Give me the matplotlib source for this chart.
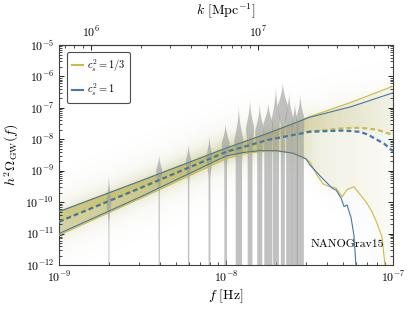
import numpy as np
import matplotlib
matplotlib.use('Agg')
import matplotlib.pyplot as plt
from matplotlib.lines import Line2D
from matplotlib.colors import to_rgb
from matplotlib.ticker import LogLocator, NullFormatter

plt.rcParams['font.family'] = 'serif'
plt.rcParams['font.serif'] = ['cmr10', 'DejaVu Serif']
plt.rcParams['mathtext.fontset'] = 'cm'
plt.rcParams['axes.formatter.use_mathtext'] = True
plt.rcParams['axes.unicode_minus'] = False

# ---------------- data (log10 values) ----------------
# c_s^2 = 1/3 (yellow)
yu_lf = np.array([-9.0, -8.5, -8.0, -7.75, -7.5, -7.25, -7.0])
yu_lo = np.array([-10.30, -9.30, -8.28, -7.80, -7.28, -6.82, -6.31])
ym_lf = np.array([-9.0, -8.5, -8.0, -7.75, -7.5, -7.3, -7.2, -7.1, -7.0])
ym_lo = np.array([-10.62, -9.52, -8.40, -8.02, -7.75, -7.65, -7.63, -7.69, -7.86])
yl_lf = np.array([-9.0, -8.5, -8.0, -7.9, -7.8, -7.7, -7.6, -7.557, -7.497, -7.455,
                  -7.419, -7.383, -7.341, -7.305, -7.275, -7.234, -7.204, -7.162,
                  -7.126, -7.096, -7.066, -7.048, -7.03, -7.0])
yl_lo = np.array([-11.05, -9.85, -8.62, -8.47, -8.39, -8.38, -8.43, -8.50, -8.72, -9.14,
                  -9.42, -9.50, -9.55, -9.83, -9.60, -9.51, -9.71, -9.99,
                  -10.30, -10.67, -11.10, -12.0, -13.0, -13.0])
# c_s^2 = 1 (blue)
bu_lf = np.array([-9.0, -8.5, -8.0, -7.75, -7.5, -7.25, -7.0])
bu_lo = np.array([-10.30, -9.30, -8.28, -7.81, -7.30, -6.96, -6.52])
bm_lf = np.array([-9.0, -8.5, -8.0, -7.75, -7.5, -7.3, -7.2, -7.15, -7.1, -7.05, -7.0])
bm_lo = np.array([-10.62, -9.52, -8.40, -8.02, -7.76, -7.72, -7.76, -7.85, -8.0, -8.15, -8.38])
bl_lf = np.array([-9.0, -8.5, -8.0, -7.9, -7.8, -7.7, -7.6, -7.521, -7.497, -7.425,
                  -7.365, -7.34, -7.311, -7.293, -7.275, -7.251, -7.234, -7.222, -7.2, -7.0])
bl_lo = np.array([-11.0, -9.80, -8.53, -8.42, -8.36, -8.36, -8.44, -8.62, -8.82, -9.23,
                  -9.55, -9.62, -9.87, -10.14, -10.09, -10.5, -11.05, -12.0, -13.0, -13.0])

# NANOGrav 15-yr free-spectrum violins (log10 h^2 Omega)
T_obs = 16.03 * 365.25 * 86400.0
pta_n = np.arange(1, 15)
v_top = np.array([-9.03, -8.44, -8.08, -7.79, -7.41, -6.85, -6.64, -6.77, -6.75, -6.22, -6.09, -6.43, -6.75, -6.49])
v_peak = np.array([-9.9, -8.95, -8.65, -8.5, -8.1, -8.0, -7.6, -7.7, -7.5, -7.3, -6.9, -7.3, -7.5, -7.3])
v_dens = np.array([2.4, 3.0, 2.7, 3.0, 4.0, 4.6, 4.0, 4.5, 5.0, 4.0, 5.0, 4.0, 3.5, 4.0])
v_tail = np.array([0.5, 0.6, 0.7, 0.9, 1.3, 3.2, 2.4, 2.5, 4.0, 3.0, 2.0, 3.0, 3.0, 3.5])

# tick values
f_ticks = [1e-9, 1e-8, 1e-7]
k_ticks = [1e6, 1e7]
y_ticks = [1e-12, 1e-11, 1e-10, 1e-9, 1e-8, 1e-7, 1e-6, 1e-5]

YEL = '#CCBB44'
BLU = '#4477AA'

fig = plt.figure(figsize=(4.07, 3.10), dpi=100)
ax = fig.add_axes([0.145, 0.145, 0.8206, 0.7097])
ax.set_xscale('log')
ax.set_yscale('log')
ax.set_xlim(1e-9, 1e-7)
ax.set_ylim(1e-12, 1e-5)
ax.set_xticks(f_ticks)
ax.set_yticks(y_ticks)
ax.xaxis.set_minor_locator(LogLocator(base=10, subs=np.arange(2, 10)))
ax.yaxis.set_minor_locator(LogLocator(base=10, subs=np.arange(2, 10)))
ax.xaxis.set_minor_formatter(NullFormatter())
ax.yaxis.set_minor_formatter(NullFormatter())
ax.set_xlim(1e-9, 1e-7)
ax.set_ylim(1e-12, 1e-5)

# ---- posterior cloud rendered as density from quantile curves ----
gx = np.linspace(-9, -7, 301)
gy = np.linspace(-12, -5, 351)
cx = 0.5 * (gx[1:] + gx[:-1])
cy = 0.5 * (gy[1:] + gy[:-1])
CX, CY = np.meshgrid(cx, cy)

def density(ulf, uv, mlf, mv, llf, lv, k):
    up = np.interp(cx, ulf, uv)[None, :]
    md = np.interp(cx, mlf, mv)[None, :]
    lo = np.maximum(np.interp(cx, llf, lv), -13.5)[None, :]
    a_hi = k / np.maximum(up - md, 0.05)
    a_lo = k / np.maximum(md - lo, 0.05)
    a = np.where(CY >= md, a_hi, a_lo)
    a = np.where(CY > up, a_hi * 0.3 * np.exp(-(CY - up) / 0.3), a)
    a = np.where(CY < lo, a_lo * 0.3 * np.exp(-(lo - CY) / 0.3), a)
    return np.clip(a, 0, 0.7)

for col, args, k in [(BLU, (bu_lf, bu_lo, bm_lf, bm_lo, bl_lf, bl_lo), 0.07),
                     (YEL, (yu_lf, yu_lo, ym_lf, ym_lo, yl_lf, yl_lo), 0.19)]:
    a = density(*args, k)
    rgba = np.zeros(a.shape + (4,))
    rgba[..., :3] = to_rgb(col)
    rgba[..., 3] = a
    ax.pcolormesh(10**gx, 10**gy, rgba, shading='flat', zorder=1, rasterized=True)

# ---- violins ----
px_per_dec = 0.8206 * 407 / 2.0
for n, top, pk, w, tl in zip(pta_n, v_top, v_peak, v_dens, v_tail):
    lfc = np.log10(n / T_obs)
    ys = np.linspace(-13, top, 400)
    t = np.clip((top - ys) / (top - pk), 0, 1)
    upper_part = w * (1 - np.cos(t * np.pi / 2))**1.1
    s = np.clip((pk - ys) / 0.8, 0, 1)
    lower_part = tl + (w - tl) * 0.5 * (1 + np.cos(s * np.pi))
    hw = np.where(ys >= pk, upper_part, lower_part)
    hw = np.maximum(hw, 0.0) / px_per_dec
    ax.fill_betweenx(10**ys, 10**(lfc - hw), 10**(lfc + hw), color='0.6',
                     alpha=0.6, lw=0, zorder=2)

# ---- lines ----
lw_s = 0.8
ax.plot(10**yu_lf, 10**yu_lo, color=YEL, lw=lw_s, zorder=3)
ax.plot(10**yl_lf, 10**yl_lo, color=YEL, lw=lw_s, zorder=3)
ax.plot(10**bu_lf, 10**bu_lo, color=BLU, lw=lw_s, zorder=3)
ax.plot(10**bl_lf, 10**bl_lo, color=BLU, lw=lw_s, zorder=3)
ax.plot(10**ym_lf, 10**ym_lo, color=YEL, lw=1.6, ls=(0, (2.2, 1.4)), zorder=4)
ax.plot(10**bm_lf, 10**bm_lo, color=BLU, lw=1.6, ls=(0, (2.2, 1.4)), zorder=4)

# ---- axes cosmetics ----
ax.tick_params(which='both', direction='in', top=False, right=True, labelsize=8.5)
ax.tick_params(which='major', length=3.5, width=0.6)
ax.tick_params(which='minor', length=2, width=0.5)
for sp in ax.spines.values():
    sp.set_linewidth(0.8)
    sp.set_color('0.25')
ax.set_xlabel(r'$f\ [\mathrm{Hz}]$', fontsize=10, labelpad=2)
ax.set_ylabel(r'$h^2\Omega_{\rm GW}(f)$', fontsize=10, labelpad=3)

kfac = 2 * np.pi * 3.0857e22 / 2.998e8
secax = ax.secondary_xaxis('top', functions=(lambda f: f * kfac, lambda k: k / kfac))
secax.set_xticks(k_ticks)
secax.xaxis.set_minor_locator(LogLocator(base=10, subs=np.arange(2, 10)))
secax.xaxis.set_minor_formatter(NullFormatter())
secax.tick_params(which='both', direction='in', labelsize=8.5)
secax.tick_params(which='major', length=3.5, width=0.6)
secax.tick_params(which='minor', length=2, width=0.5)
secax.set_xlabel(r'$k\ [\mathrm{Mpc}^{-1}]$', fontsize=10, labelpad=7)

ax.text(0.973, 0.083, 'NANOGrav15', transform=ax.transAxes, ha='right',
        va='baseline', fontsize=8.5, zorder=5)

handles = [Line2D([], [], color=YEL, lw=1.5), Line2D([], [], color=BLU, lw=1.5)]
leg = ax.legend(handles, [r'$c_s^2 = 1/3$', r'$c_s^2 = 1$'], loc='upper left',
                fontsize=7.5, handlelength=1.0, handletextpad=0.4, borderpad=0.5,
                borderaxespad=0.0, labelspacing=0.75, frameon=True, fancybox=True,
                bbox_to_anchor=(0.024, 0.968))
leg.get_frame().set_edgecolor('0.3')
leg.get_frame().set_linewidth(0.8)
leg.get_frame().set_alpha(1)
leg.set_zorder(6)

fig.savefig('out.png', dpi=100)
